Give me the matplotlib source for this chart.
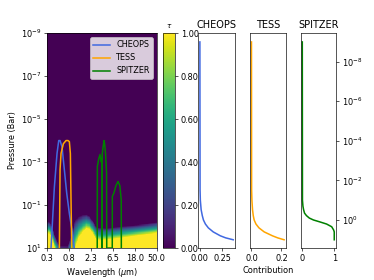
"""Optical depth map with filter bandpasses and per-band contribution
functions (CHEOPS / TESS / SPITZER)."""
import matplotlib

matplotlib.use("Agg")
import matplotlib.pyplot as plt  # noqa: E402
import numpy as np
from matplotlib.ticker import NullLocator

DPI = 58.4375
FIGSIZE = (374 / DPI, 280 / DPI)

LAM_MIN, LAM_MAX = 0.3, 50.0
P_TOP, P_BOT = 1e-9, 1e1

# tau = 1 level (log10 bar) and ramp thickness (decades)
TAU_LAM = [0.30, 0.35, 0.40, 0.45, 0.55, 0.80, 1.00, 1.10, 1.30, 1.60,
           1.90, 2.20, 2.60, 3.00, 3.5, 5.0, 10.0, 20.0, 35.0, 50.0]
TAU_LOGP = [0.3, 0.35, 0.7, 1.1, 1.5, 1.7, 1.4, 1.1, 0.55, 0.25,
            0.08, 0.12, 0.35, 0.6, 0.65, 0.62, 0.53, 0.42, 0.35, 0.3]
TAU_WIDTH = [0.55, 0.55, 0.6, 0.6, 0.6, 0.8, 1.2, 1.4, 1.0, 0.8,
             0.65, 0.6, 0.6, 0.6, 0.6, 0.55, 0.55, 0.5, 0.5, 0.5]

# filter transmission (normalised)
CHEOPS_LAM = [0.366, 0.428, 0.484, 0.524, 0.557, 0.611, 0.68, 0.76, 0.86,
              0.97, 1.08]
CHEOPS_T = [0.0, 0.57, 0.88, 1.0, 1.0, 0.94, 0.73, 0.51, 0.32, 0.17, 0.0]
TESS_LAM = [0.54, 0.557, 0.583, 0.649, 0.736, 0.807, 0.859, 0.90, 0.93, 0.96]
TESS_T = [0.0, 0.73, 0.88, 0.97, 1.0, 1.0, 0.99, 0.88, 0.42, 0.0]
SPITZER_LAM = [3.14, 3.16, 3.37, 3.58, 3.80, 3.90, 3.92, 3.95, 3.97, 4.10,
               4.32, 4.45, 4.62, 4.85, 4.89, 6.32, 6.34, 6.8, 7.5, 8.26,
               9.0, 9.60, 9.64]
SPITZER_T = [0.0, 0.76, 0.83, 0.87, 0.80, 0.82, 0.0, 0.0, 0.88, 0.93,
             1.0, 0.96, 0.88, 0.70, 0.0, 0.0, 0.48, 0.51, 0.58, 0.62,
             0.58, 0.45, 0.0]

# contribution functions
CHEOPS_P = [1e-9, 0.03, 0.1, 0.3, 0.6, 1.0, 1.6, 2.5, 4.0, 6.3, 8.0, 10.0]
CHEOPS_C = [0.0, 0.002, 0.005, 0.014, 0.027, 0.04, 0.062, 0.095, 0.15, 0.23,
            0.29, 0.375]
TESS_P = [1e-9, 0.03, 0.1, 0.3, 0.6, 1.0, 1.6, 2.5, 4.0, 6.3, 8.0, 10.0]
TESS_C = [0.0, 0.001, 0.003, 0.007, 0.012, 0.018, 0.03, 0.05, 0.085, 0.14,
          0.175, 0.218]
SPITZER_P = [1e-9, 0.1, 0.2, 0.3, 0.45, 0.6, 0.8, 1.0, 1.25, 1.6, 2.2, 3.2,
             4.0, 10.0]
SPITZER_C = [0.0, 0.005, 0.02, 0.04, 0.07, 0.13, 0.22, 0.35, 0.55, 0.76, 0.92,
             0.98, 1.0, 1.0]

BANDS = [
    ("CHEOPS", "royalblue", CHEOPS_LAM, CHEOPS_T, CHEOPS_P, CHEOPS_C,
     [0.0, 0.25], "%.2f"),
    ("TESS", "orange", TESS_LAM, TESS_T, TESS_P, TESS_C, [0.0, 0.2], "%.1f"),
    ("SPITZER", "green", SPITZER_LAM, SPITZER_T, SPITZER_P, SPITZER_C,
     [0, 1], "%d"),
]
LW = 1.9


def tau_map():
    lam_e = np.geomspace(LAM_MIN, LAM_MAX, 301)
    p_e = np.logspace(np.log10(P_TOP), np.log10(P_BOT), 401)
    lam_c = np.sqrt(lam_e[1:] * lam_e[:-1])
    logp_c = 0.5 * (np.log10(p_e[1:]) + np.log10(p_e[:-1]))
    level = np.interp(np.log10(lam_c), np.log10(TAU_LAM), TAU_LOGP)
    width = np.interp(np.log10(lam_c), np.log10(TAU_LAM), TAU_WIDTH)
    tau = 1 + (logp_c[:, None] - level[None, :]) / width[None, :]
    return lam_e, p_e, np.clip(tau, 0, 1)


def trans_to_p(t):
    # transmission 0 -> 10 bar, 1 -> 1e-4 bar
    return 10 ** (1 - 5 * np.asarray(t))


def main():
    fig = plt.figure(figsize=FIGSIZE, dpi=DPI)
    ax = fig.add_axes([0.125, 0.114, 0.294, 0.768])
    cax = fig.add_axes([0.437, 0.114, 0.031, 0.768])
    paxes = [fig.add_axes([0.530, 0.114, 0.098, 0.768]),
             fig.add_axes([0.668, 0.114, 0.096, 0.768]),
             fig.add_axes([0.804, 0.114, 0.094, 0.768])]

    lam_e, p_e, tau = tau_map()
    mesh = ax.pcolormesh(lam_e, p_e, tau, cmap="viridis", vmin=0, vmax=1,
                         shading="flat", rasterized=True)
    for name, col, lam, t, *_ in BANDS:
        ax.plot(lam, trans_to_p(t), color=col, label=name, lw=LW)
    ax.set_xscale("log")
    ax.set_yscale("log")
    ax.set_xlim(LAM_MIN, LAM_MAX)
    ax.set_ylim(P_BOT, P_TOP)
    xt = np.geomspace(LAM_MIN, LAM_MAX, 6)
    ax.set_xticks(xt)
    ax.set_xticklabels([f"{v:.1f}" for v in xt])
    ax.set_yticks([1e-9, 1e-7, 1e-5, 1e-3, 1e-1, 1e1])
    ax.xaxis.set_minor_locator(NullLocator())
    ax.yaxis.set_minor_locator(NullLocator())
    ax.set_xlabel(r"Wavelength ($\mu$m)")
    ax.set_ylabel("Pressure (Bar)")
    ax.legend(loc="upper right")

    cb = fig.colorbar(mesh, cax=cax, ticks=np.linspace(0, 1, 6),
                      format="%.2f")
    cax.set_title(r"$\tau$", fontsize=9)

    for pax, (name, col, _, _, p, c, xt, fmt) in zip(paxes, BANDS):
        pax.plot(c, p, color=col, lw=LW)
        pax.set_yscale("log")
        pax.set_ylim(10 ** 1.42, 10 ** -9.45)
        pax.set_title(name)
        pax.set_xticks(xt)
        pax.set_xticklabels([fmt % v for v in xt])
        pax.yaxis.set_minor_locator(NullLocator())
        pax.tick_params(axis="y", left=False, labelleft=False)
    paxes[1].set_xlabel("Contribution")
    sp = paxes[2]
    sp.set_yticks([1e-8, 1e-6, 1e-4, 1e-2, 1e0])
    sp.yaxis.set_minor_locator(NullLocator())
    sp.tick_params(axis="y", right=True, labelright=True)

    fig.savefig("out.png", dpi=DPI)


if __name__ == "__main__":
    main()
